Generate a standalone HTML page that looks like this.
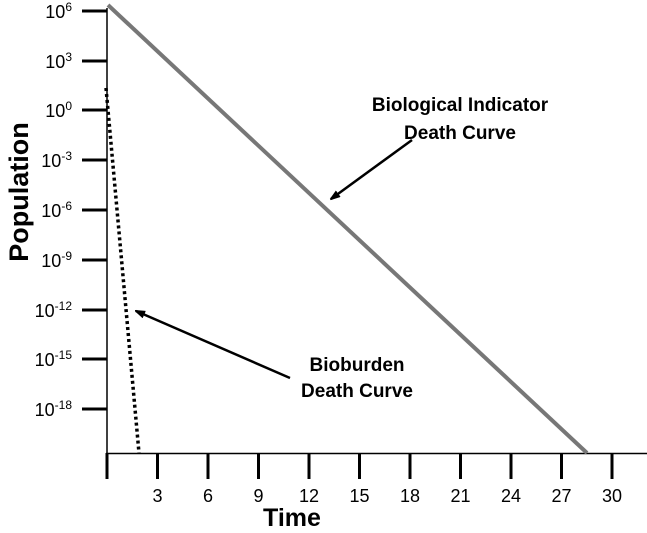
<!DOCTYPE html><html><head><style>body{margin:0;background:#fff}</style></head><body>
<svg width="647" height="528" xmlns="http://www.w3.org/2000/svg" font-family="Liberation Sans, Arial, sans-serif">
<defs><marker id="a" markerWidth="10" markerHeight="8" refX="9" refY="4" orient="auto" markerUnits="userSpaceOnUse"><path d="M0,0 L12,4 L0,8 z" fill="#000"/></marker></defs>
<line x1="107" y1="8" x2="107" y2="454" stroke="#000" stroke-width="1.5"/>
<line x1="106" y1="453.5" x2="647" y2="453.5" stroke="#000" stroke-width="1.5"/>
<g stroke="#000" stroke-width="3">
<line x1="82" y1="11" x2="107" y2="11"/><line x1="82" y1="61" x2="107" y2="61"/><line x1="82" y1="110" x2="107" y2="110"/><line x1="82" y1="160" x2="107" y2="160"/><line x1="82" y1="210" x2="107" y2="210"/><line x1="82" y1="260" x2="107" y2="260"/><line x1="82" y1="310" x2="107" y2="310"/><line x1="82" y1="359" x2="107" y2="359"/><line x1="82" y1="409" x2="107" y2="409"/>
<line x1="107" y1="453" x2="107" y2="479"/><line x1="157.5" y1="453" x2="157.5" y2="479"/><line x1="208" y1="453" x2="208" y2="479"/><line x1="258.5" y1="453" x2="258.5" y2="479"/><line x1="309" y1="453" x2="309" y2="479"/><line x1="359.5" y1="453" x2="359.5" y2="479"/><line x1="410" y1="453" x2="410" y2="479"/><line x1="460.5" y1="453" x2="460.5" y2="479"/><line x1="511" y1="453" x2="511" y2="479"/><line x1="561.5" y1="453" x2="561.5" y2="479"/><line x1="612" y1="453" x2="612" y2="479"/>
</g>
<g font-size="18" text-anchor="end">
<text x="72" y="18">10<tspan font-size="12" dy="-7">6</tspan></text>
<text x="72" y="68">10<tspan font-size="12" dy="-7">3</tspan></text>
<text x="72" y="117">10<tspan font-size="12" dy="-7">0</tspan></text>
<text x="72" y="167">10<tspan font-size="12" dy="-7">-3</tspan></text>
<text x="72" y="217">10<tspan font-size="12" dy="-7">-6</tspan></text>
<text x="72" y="267">10<tspan font-size="12" dy="-7">-9</tspan></text>
<text x="72" y="317">10<tspan font-size="12" dy="-7">-12</tspan></text>
<text x="72" y="366">10<tspan font-size="12" dy="-7">-15</tspan></text>
<text x="72" y="416">10<tspan font-size="12" dy="-7">-18</tspan></text>
</g>
<g font-size="18" text-anchor="middle">
<text x="157.5" y="502">3</text><text x="208" y="502">6</text><text x="258.5" y="502">9</text><text x="309" y="502">12</text><text x="359.5" y="502">15</text><text x="410" y="502">18</text><text x="460.5" y="502">21</text><text x="511" y="502">24</text><text x="561.5" y="502">27</text><text x="612" y="502">30</text>
</g>
<text x="292" y="526" font-size="25" font-weight="bold" text-anchor="middle">Time</text>
<text transform="translate(28,192) rotate(-90)" font-size="27" font-weight="bold" text-anchor="middle">Population</text>
<line x1="108" y1="5" x2="587" y2="453" stroke="#777" stroke-width="4"/>
<line x1="106" y1="88" x2="139" y2="453" stroke="#000" stroke-width="3.5" stroke-dasharray="3,3"/>
<line x1="412" y1="140" x2="331" y2="199" stroke="#000" stroke-width="2.5" marker-end="url(#a)"/>
<line x1="290" y1="378" x2="136" y2="311" stroke="#000" stroke-width="2.5" marker-end="url(#a)"/>
<g font-size="19" font-weight="bold" text-anchor="middle">
<text x="460" y="111">Biological Indicator</text><text x="460" y="139">Death Curve</text>
<text x="357" y="371">Bioburden</text><text x="357" y="397">Death Curve</text>
</g>
</svg></body></html>
